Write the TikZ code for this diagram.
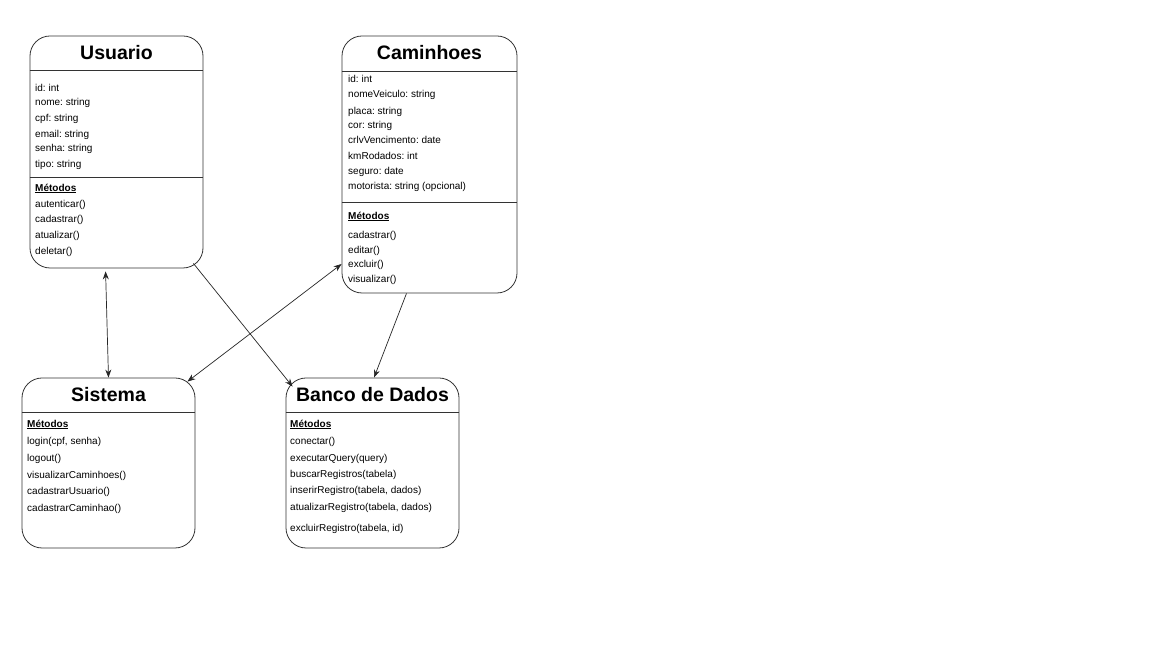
\documentclass[tikz,border=0pt]{standalone}
\usepackage{fontspec}
\setmainfont{Liberation Sans}
\usetikzlibrary{positioning,arrows.meta}
\frenchspacing

\begin{document}
\begin{tikzpicture}[x=1pt, y=1pt]
  \tikzset{
    classbox/.style={draw=black!80, line width=0.8pt, rectangle, rounded corners=20pt, inner sep=0pt},
    title/.style={font=\fontsize{19.5}{22}\selectfont\bfseries, inner sep=0pt},
    member/.style={font=\fontsize{10}{12}\selectfont, anchor=west, inner sep=0pt, yshift=-1.5pt},
    divider/.style={draw=black!80, line width=0.8pt},
    link/.style={draw=black!85, line width=0.7pt, -{Stealth[length=8pt,width=6pt]}},
    duallink/.style={draw=black!85, line width=0.7pt, {Stealth[length=8pt,width=6pt]}-{Stealth[length=8pt,width=6pt]}}
  }
  \useasboundingbox[fill=white] (0,0) rectangle (1152,648);

  % classes
  \node[classbox, minimum width=173pt, minimum height=232pt] (usuario) at (116.5,496) {};
  \node[classbox, minimum width=175pt, minimum height=257pt] (caminhoes) at (429.5,483.5) {};
  \node[classbox, minimum width=173pt, minimum height=170pt] (sistema) at (108.5,185) {};
  \node[classbox, minimum width=173pt, minimum height=170pt] (banco) at (372.5,185) {};

  \node[title] (usuario-t) at (usuario.north |- 0,595) {Usuario};
  \node[title] (caminhoes-t) at (caminhoes.north |- 0,595) {Caminhoes};
  \node[title] (sistema-t) at (sistema.north |- 0,253) {Sistema};
  \node[title] (banco-t) at (banco.north |- 0,253) {Banco de Dados};

  \draw[divider] (usuario.west |- 0,578) -- (usuario.east |- 0,578);
  \draw[divider] (usuario.west |- 0,471) -- (usuario.east |- 0,471);
  \draw[divider] (caminhoes.west |- 0,577) -- (caminhoes.east |- 0,577);
  \draw[divider] (caminhoes.west |- 0,446) -- (caminhoes.east |- 0,446);
  \draw[divider] (sistema.west |- 0,236) -- (sistema.east |- 0,236);
  \draw[divider] (banco.west |- 0,236) -- (banco.east |- 0,236);

  % members
  \foreach \y/\t [count=\i] in {562/{id: int}, 547/{nome: string}, 531/{cpf: string},
      515/{email: string}, 501/{senha: string}, 485/{tipo: string},
      461/{\underline{\textbf{Métodos}}}, 445/{autenticar()}, 430/{cadastrar()},
      414/{atualizar()}, 398/{deletar()}}
    \node[member] (usuario-\i) at (35,\y) {\t};

  \foreach \y/\t [count=\i] in {571/{id: int}, 555/{nomeVeiculo: string}, 538/{placa: string},
      524/{cor: string}, 510/{crlvVencimento: date}, 494/{kmRodados: int},
      478/{seguro: date}, 463/{motorista: string (opcional)},
      433/{\underline{\textbf{Métodos}}}, 414/{cadastrar()}, 399/{editar()},
      385/{excluir()}, 370/{visualizar()}}
    \node[member] (caminhoes-\i) at (348,\y) {\t};

  \foreach \y/\t [count=\i] in {225/{\underline{\textbf{Métodos}}}, 208/{login(cpf, senha)},
      191/{logout()}, 174/{visualizarCaminhoes()}, 158/{cadastrarUsuario()},
      141/{cadastrarCaminhao()}}
    \node[member] (sistema-\i) at (27,\y) {\t};

  \foreach \y/\t [count=\i] in {225/{\underline{\textbf{Métodos}}}, 208/{conectar()},
      191/{executarQuery(query)}, 175/{buscarRegistros(tabela)},
      159/{inserirRegistro(tabela, dados)}, 142/{atualizarRegistro(tabela, dados)},
      121/{excluirRegistro(tabela, id)}}
    \node[member] (banco-\i) at (290,\y) {\t};

  % connectors
  \draw[duallink, shorten <=3pt] ([xshift=-11pt]usuario.south) -- (sistema.north);
  \draw[link] ([shift={(-10pt,5pt)}]usuario.south east) -- ([shift={(7pt,-9pt)}]banco.north west);
  \draw[duallink] ([yshift=-99.5pt]caminhoes.west) -- ([shift={(-8pt,-4pt)}]sistema.north east);
  \draw[link] ([xshift=-23pt]caminhoes.south) -- ([xshift=1.5pt]banco.north);
\end{tikzpicture}
\end{document}
